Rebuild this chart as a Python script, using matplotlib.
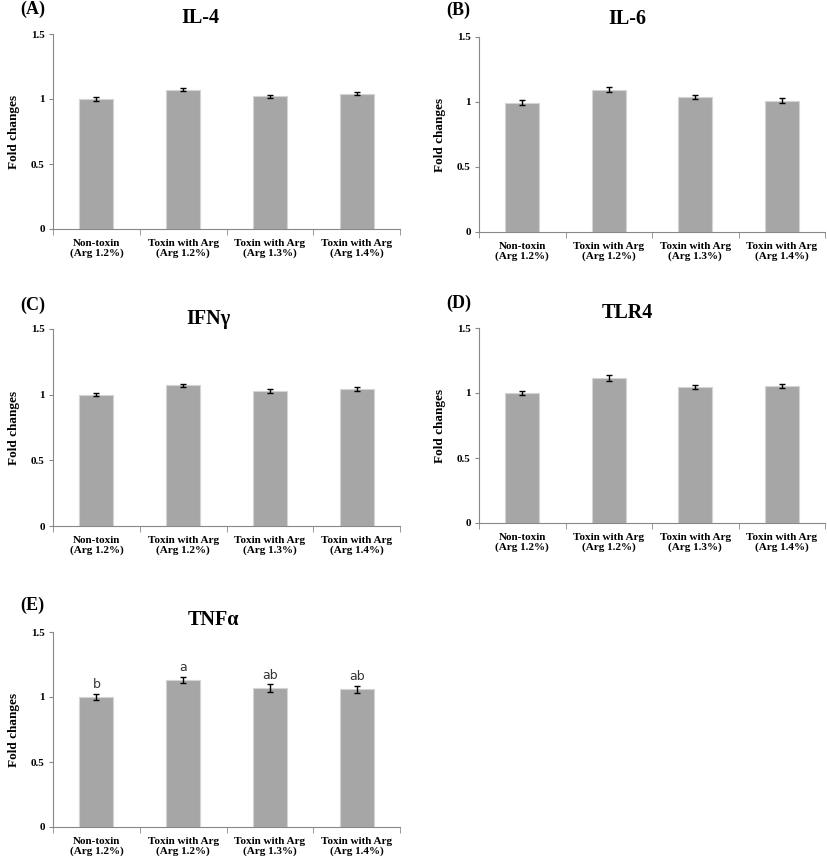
import matplotlib
matplotlib.use("Agg")
import matplotlib.pyplot as plt
import numpy as np

categories = ["Non-toxin\n(Arg 1.2%)", "Toxin with Arg\n(Arg 1.2%)",
              "Toxin with Arg\n(Arg 1.3%)", "Toxin with Arg\n(Arg 1.4%)"]
yticks = [0, 0.5, 1, 1.5]
ytick_labels = ["0", "0.5", "1", "1.5"]

il4 = [1.00, 1.07, 1.02, 1.04]
il4_err = [0.012, 0.012, 0.012, 0.012]
il6 = [0.995, 1.095, 1.04, 1.01]
il6_err = [0.02, 0.02, 0.017, 0.017]
ifng = [1.00, 1.07, 1.025, 1.045]
ifng_err = [0.012, 0.015, 0.015, 0.015]
tlr4 = [1.00, 1.115, 1.045, 1.055]
tlr4_err = [0.018, 0.022, 0.018, 0.018]
tnfa = [1.00, 1.13, 1.07, 1.06]
tnfa_err = [0.025, 0.025, 0.028, 0.028]
tnfa_letters = ["b", "a", "ab", "ab"]

W, H = 827, 856
fig = plt.figure(figsize=(W / 100, H / 100), dpi=100)

serif = "Liberation Serif"

def px_axes(x0, x1, ytop, ybot):
    return fig.add_axes([x0 / W, 1 - ybot / H, (x1 - x0) / W, (ybot - ytop) / H])

panels = [
    ("(A)", "IL-4", il4, il4_err, None, (53, 400, 34, 229), (20, 9), (200, 18)),
    ("(B)", "IL-6", il6, il6_err, None, (479, 825, 37, 232), (446, 10), (627, 19)),
    ("(C)", "IFN\u03b3", ifng, ifng_err, None, (53, 400, 329, 526), (20, 305), (208, 319)),
    ("(D)", "TLR4", tlr4, tlr4_err, None, (479, 825, 328, 523), (446, 303), (627, 313)),
    ("(E)", "TNF\u03b1", tnfa, tnfa_err, tnfa_letters, (53, 400, 632, 827), (20, 605), (213, 620)),
]

for tag, title, vals, errs, letters, box, tagpos, titlepos in panels:
    ax = px_axes(*box)
    x = np.arange(len(categories))
    ax.bar(x, vals, width=0.39, color="#a6a6a6", edgecolor="#d4d4d4", linewidth=0.8, zorder=2)
    ax.errorbar(x, vals, yerr=errs, fmt="none", ecolor="black", elinewidth=1.0,
                capsize=2, capthick=1.0, zorder=3)
    if letters:
        for xi, v, e, lab in zip(x, vals, errs, letters):
            ax.text(xi, v + e + 0.02, lab, ha="center", va="bottom",
                    fontsize=9, family="DejaVu Sans", color="#333333")
    ax.set_xlim(-0.5, len(categories) - 0.5)
    ax.set_ylim(0, 1.5)
    ax.set_yticks(yticks)
    ax.set_yticklabels(ytick_labels, family=serif, fontweight="bold", fontsize=8)
    ax.set_xticks(x)
    ax.set_xticklabels(categories, family=serif, fontweight="bold", fontsize=8,
                       linespacing=1.05)
    ax.tick_params(axis="x", length=0, pad=7)
    ax.set_xticks(np.arange(-0.5, len(categories)), minor=True)
    ax.tick_params(axis="x", which="minor", length=4, color="#888888", direction="out")
    ax.tick_params(axis="y", length=3, color="#888888", direction="out", pad=3)
    for s in ["top", "right"]:
        ax.spines[s].set_visible(False)
    for s in ["left", "bottom"]:
        ax.spines[s].set_color("#888888")
        ax.spines[s].set_linewidth(0.8)
    ax.set_ylabel("Fold changes", family=serif, fontweight="bold", fontsize=9.5, labelpad=8)
    fig.text(tagpos[0] / W, 1 - tagpos[1] / H, tag, family=serif, fontweight="bold",
             fontsize=13, ha="left", va="center")
    fig.text(titlepos[0] / W, 1 - titlepos[1] / H, title, family=serif, fontweight="bold",
             fontsize=14.5, ha="center", va="center")

fig.savefig("out.png", dpi=100, facecolor="white")
